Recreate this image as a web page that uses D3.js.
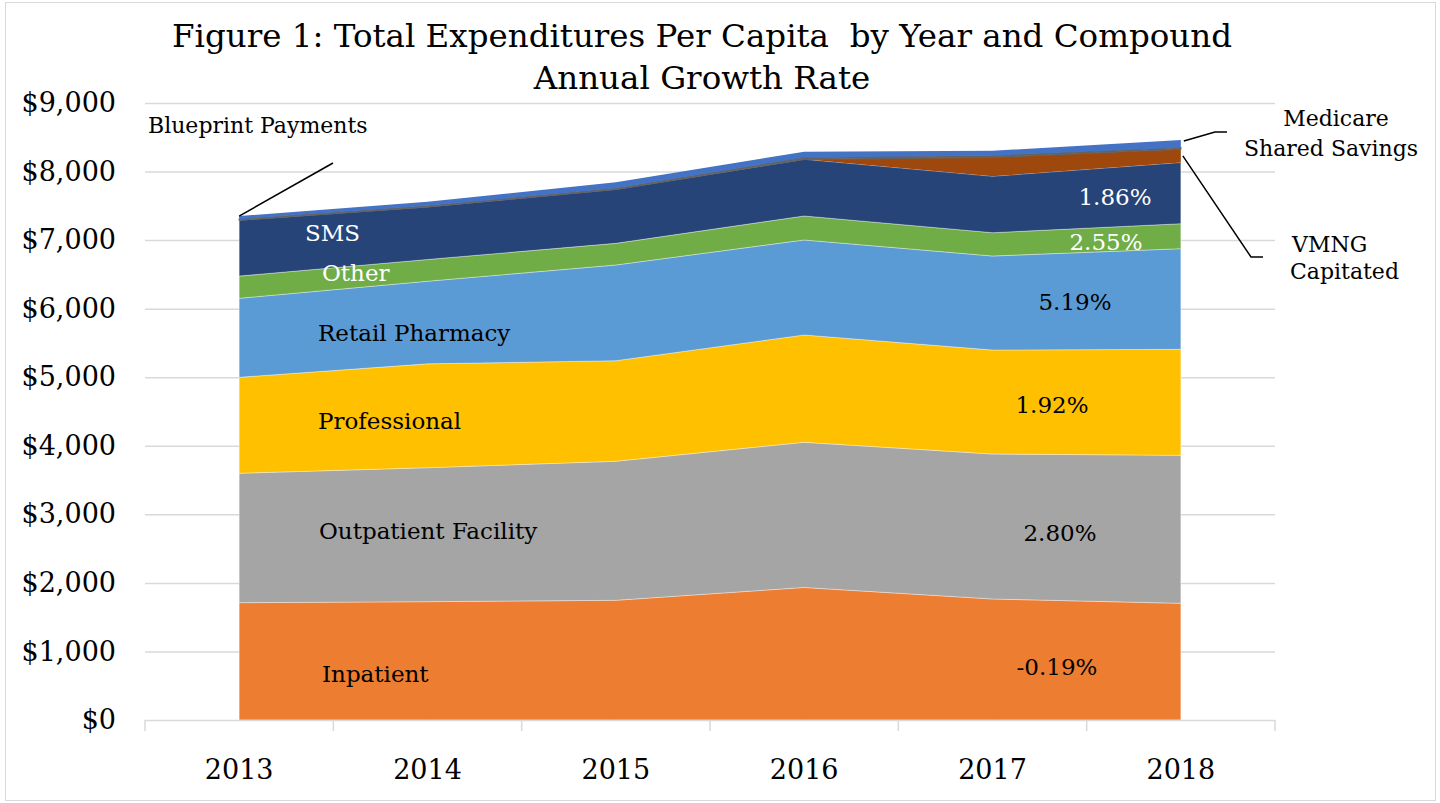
<!DOCTYPE html>
<meta charset="utf-8">
<style>
body { margin: 0; background: #fff; }
svg text { font-family: "DejaVu Serif", Georgia, serif; fill: #000; }
.grid line { stroke: #d9d9d9; stroke-width: 1.5; }
.grid path { display: none; }
.axis text { font-size: 27px; }
.axis path, .axis line { display: none; }
.lbl { font-size: 23px; }
.note { font-size: 22px; }
</style>
<body>
<script src="https://d3js.org/d3.v7.min.js"></script>
<script>

// values, $ per capita
var years = ["2013", "2014", "2015", "2016", "2017", "2018"];
var inpatient    = [1711, 1726, 1746, 1933, 1765, 1702];
var outpatient   = [1888, 1954, 2028, 2118, 2115, 2159];
var professional = [1400, 1515, 1467, 1565, 1517, 1546];
var retail       = [1152, 1205, 1396, 1386, 1371, 1468];
var other        = [ 324,  317,  316,  350,  340,  364];
var sms          = [ 816,  768,  788,  827,  823,  893];
var vmng         = [   0,    0,    0,    0,  277,  193];
var mss          = [  15,   15,   15,   27,   26,   23];
var blueprint    = [  44,   58,   87,   84,   70,  112];
var yTicks = [0, 1000, 2000, 3000, 4000, 5000, 6000, 7000, 8000, 9000];

var keys = ["Inpatient", "Outpatient Facility", "Professional", "Retail Pharmacy", "Other", "SMS",
            "VMNG Capitated", "Medicare Shared Savings", "Blueprint Payments"];
var series = [inpatient, outpatient, professional, retail, other, sms, vmng, mss, blueprint];
var colors = ["#ED7D31", "#A5A5A5", "#FFC000", "#5B9BD5", "#70AD47", "#264478",
              "#9E480E", "#636363", "#4472C4"];

var table = years.map(function(yr, i) {
  var row = {year: yr};
  keys.forEach(function(k, j) { row[k] = series[j][i]; });
  return row;
});

var W = 1440, H = 803;
var m = {left: 145, right: 1275, top: 103, bottom: 720};

var svg = d3.select("body").append("svg")
    .attr("width", W)
    .attr("height", H);

svg.append("rect")
    .attr("x", 5.5).attr("y", 2.5)
    .attr("width", W - 10).attr("height", H - 5)
    .attr("fill", "#fff")
    .attr("stroke", "#d9d9d9");

var x = d3.scaleBand().domain(years).range([m.left, m.right]);
var y = d3.scaleLinear().domain([0, 9000]).range([m.bottom, m.top]);
function cx(yr) { return x(yr) + x.bandwidth() / 2; }

// gridlines
svg.append("g")
    .attr("class", "grid")
    .attr("transform", "translate(" + m.left + ",0)")
    .call(d3.axisLeft(y).tickValues(yTicks.slice(1)).tickSize(-(m.right - m.left)).tickFormat(""));

var stack = d3.stack().keys(keys)(table);

var area = d3.area()
    .x(function(d) { return cx(d.data.year); })
    .y0(function(d) { return y(d[0]); })
    .y1(function(d) { return y(d[1]); });

svg.selectAll(".layer")
    .data(stack)
  .enter().append("path")
    .attr("class", "layer")
    .attr("d", area)
    .attr("fill", function(d, i) { return colors[i]; })
    .attr("stroke", function(d, i) {
      if (i == 7) return colors[i];          // thin shared-savings band reads as a grey line
      return i < 6 ? "rgba(255,255,255,0.45)" : "none";
    })
    .attr("stroke-width", function(d, i) { return i == 7 ? 1.2 : 0.8; });

// x axis line and category ticks
svg.append("line")
    .attr("x1", m.left).attr("x2", m.right)
    .attr("y1", m.bottom + 0.5).attr("y2", m.bottom + 0.5)
    .attr("stroke", "#d9d9d9").attr("stroke-width", 1.5);

var bounds = years.map(function(yr) { return x(yr); }).concat([m.right]);
svg.selectAll(".xtick")
    .data(bounds)
  .enter().append("line")
    .attr("x1", function(d) { return d; }).attr("x2", function(d) { return d; })
    .attr("y1", m.bottom).attr("y2", m.bottom + 11)
    .attr("stroke", "#d9d9d9").attr("stroke-width", 1.5);

svg.append("g")
    .attr("class", "axis")
    .attr("transform", "translate(0," + m.bottom + ")")
    .call(d3.axisBottom(x).tickSize(0).tickPadding(40));

svg.append("g")
    .attr("class", "axis")
    .attr("transform", "translate(" + (m.left - 29) + ",0)")
    .call(d3.axisLeft(y).tickValues(yTicks).tickSize(0).tickPadding(0).tickFormat(d3.format("$,.0f")));

// title
var title = svg.append("text")
    .attr("text-anchor", "middle")
    .style("font-size", "32.5px")
    .style("white-space", "pre");
title.append("tspan").attr("x", 702).attr("y", 47).text("Figure 1: Total Expenditures Per Capita  by Year and Compound");
title.append("tspan").attr("x", 702).attr("y", 89).text("Annual Growth Rate");

// layer names on the left
var names = [
  {t: "SMS", x: 305, y: 241, c: "#fff"},
  {t: "Other", x: 322, y: 281, c: "#fff"},
  {t: "Retail Pharmacy", x: 318, y: 341, c: "#000"},
  {t: "Professional", x: 318, y: 429, c: "#000"},
  {t: "Outpatient Facility", x: 319, y: 539, c: "#000"},
  {t: "Inpatient", x: 322, y: 682, c: "#000"}
];
svg.selectAll(".name")
    .data(names)
  .enter().append("text")
    .attr("class", "lbl")
    .attr("x", function(d) { return d.x; })
    .attr("y", function(d) { return d.y; })
    .style("fill", function(d) { return d.c; })
    .text(function(d) { return d.t; });

// compound annual growth rates
var cagr = [
  {t: "1.86%", x: 1115, y: 205, c: "#fff"},
  {t: "2.55%", x: 1106, y: 250, c: "#fff"},
  {t: "5.19%", x: 1075, y: 310, c: "#000"},
  {t: "1.92%", x: 1052, y: 413, c: "#000"},
  {t: "2.80%", x: 1060, y: 541, c: "#000"},
  {t: "-0.19%", x: 1057, y: 675, c: "#000"}
];
svg.selectAll(".cagr")
    .data(cagr)
  .enter().append("text")
    .attr("class", "lbl")
    .attr("text-anchor", "middle")
    .attr("x", function(d) { return d.x; })
    .attr("y", function(d) { return d.y; })
    .style("fill", function(d) { return d.c; })
    .text(function(d) { return d.t; });

// callouts
var last = stack[0].length - 1;
var topFirst = y(stack[8][0][1]);
var topLast = y(stack[8][last][1]);
var vmngLast = y((stack[6][last][0] + stack[6][last][1]) / 2);

svg.append("text").attr("class", "note").attr("x", 148).attr("y", 133).text("Blueprint Payments");
svg.append("path")
    .attr("d", "M" + cx("2013") + "," + topFirst + "L333,163")
    .attr("fill", "none").attr("stroke", "#000").attr("stroke-width", 1.5);

svg.append("text").attr("class", "note").attr("x", 1336).attr("y", 126).attr("text-anchor", "middle").text("Medicare");
svg.append("text").attr("class", "note").attr("x", 1331).attr("y", 156).attr("text-anchor", "middle").text("Shared Savings");
svg.append("path")
    .attr("d", "M" + (cx("2018") + 3) + "," + (topLast + 1) + "L1215,132L1227,132")
    .attr("fill", "none").attr("stroke", "#000").attr("stroke-width", 1.5);

svg.append("text").attr("class", "note").attr("x", 1292).attr("y", 252).text("VMNG");
svg.append("text").attr("class", "note").attr("x", 1290).attr("y", 279).text("Capitated");
svg.append("path")
    .attr("d", "M" + (cx("2018") + 2) + "," + vmngLast + "L1251,257L1263,257")
    .attr("fill", "none").attr("stroke", "#000").attr("stroke-width", 1.5);

</script>
